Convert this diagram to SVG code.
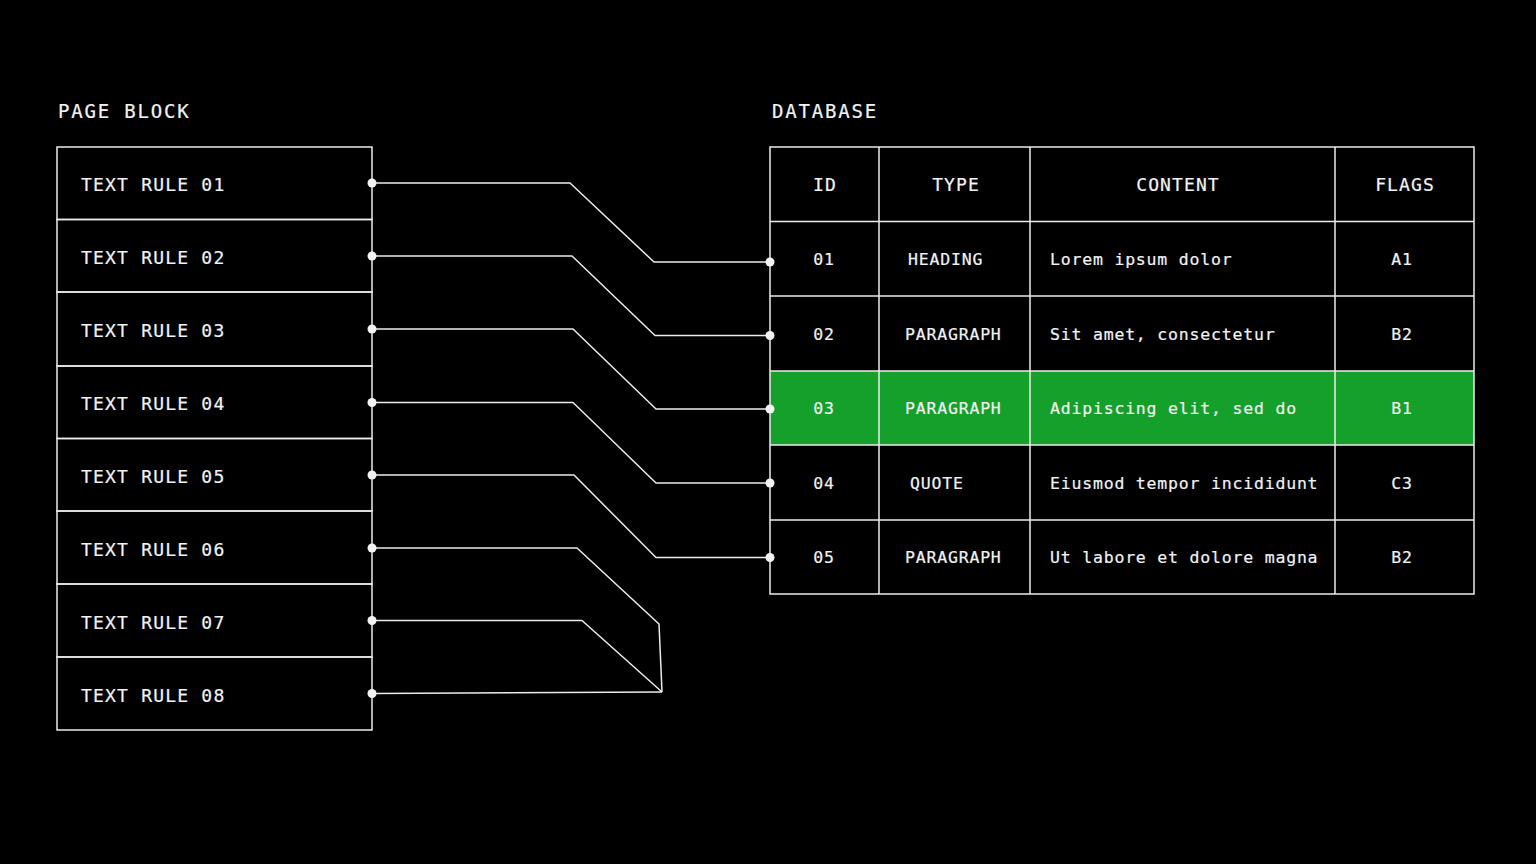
<svg xmlns="http://www.w3.org/2000/svg" width="1536" height="864" viewBox="0 0 1536 864">
<defs>
<style>
text{font-family:"DejaVu Sans Mono","Liberation Mono",monospace;fill:#f2f2f2;stroke:#f2f2f2;stroke-width:0.2}
.title{font-size:19px;letter-spacing:1.8px}
.rule{font-size:18px;letter-spacing:1.2px}
.th{font-size:18px;letter-spacing:1.1px;text-anchor:middle}
.td{font-size:16.5px;letter-spacing:0.8px}
.c{text-anchor:middle}
.box{fill:none;stroke:#ececec;stroke-width:1.5}
.ln{fill:none;stroke:#ececec;stroke-width:1.5;stroke-linejoin:round}
.dot{fill:#f2f2f2}
</style>
</defs>
<rect width="1536" height="864" fill="#000"/>
<text class="title" x="58" y="118">PAGE BLOCK</text>
<text class="title" x="772" y="118">DATABASE</text>

<g id="page-block">
<g id="rule01"><rect class="box" x="57" y="147" width="315" height="72.5"/><text class="rule" x="81" y="191">TEXT RULE 01</text></g>
<g id="rule02"><rect class="box" x="57" y="219.5" width="315" height="72.5"/><text class="rule" x="81" y="264">TEXT RULE 02</text></g>
<g id="rule03"><rect class="box" x="57" y="292" width="315" height="74"/><text class="rule" x="81" y="337">TEXT RULE 03</text></g>
<g id="rule04"><rect class="box" x="57" y="366" width="315" height="72.5"/><text class="rule" x="81" y="410">TEXT RULE 04</text></g>
<g id="rule05"><rect class="box" x="57" y="438.5" width="315" height="72.5"/><text class="rule" x="81" y="483">TEXT RULE 05</text></g>
<g id="rule06"><rect class="box" x="57" y="511" width="315" height="73"/><text class="rule" x="81" y="556">TEXT RULE 06</text></g>
<g id="rule07"><rect class="box" x="57" y="584" width="315" height="73"/><text class="rule" x="81" y="629">TEXT RULE 07</text></g>
<g id="rule08"><rect class="box" x="57" y="657" width="315" height="73"/><text class="rule" x="81" y="702">TEXT RULE 08</text></g>
</g>

<g id="database">
<g id="row-03-highlight"><rect x="770" y="371" width="704" height="74" fill="#14a02a"/></g>
<g id="table-grid">
<rect class="box" x="770" y="147" width="704" height="447"/>
<path class="ln" d="M770 221.5H1474M770 296H1474M770 371H1474M770 445H1474M770 520H1474M879 147V594M1030 147V594M1335 147V594"/>
</g>
<g id="header">
<text class="th" x="825" y="191">ID</text>
<text class="th" x="956" y="191">TYPE</text>
<text class="th" x="1178" y="191">CONTENT</text>
<text class="th" x="1405" y="191">FLAGS</text>
</g>
<g id="row01">
<text class="td c" x="824" y="265">01</text>
<text class="td" x="908" y="265">HEADING</text>
<text class="td" x="1050" y="265">Lorem ipsum dolor</text>
<text class="td c" x="1402" y="265">A1</text>
</g>
<g id="row02">
<text class="td c" x="824" y="340">02</text>
<text class="td" x="905" y="340">PARAGRAPH</text>
<text class="td" x="1050" y="340">Sit amet, consectetur</text>
<text class="td c" x="1402" y="340">B2</text>
</g>
<g id="row03">
<text class="td c" x="824" y="414">03</text>
<text class="td" x="905" y="414">PARAGRAPH</text>
<text class="td" x="1050" y="414">Adipiscing elit, sed do</text>
<text class="td c" x="1402" y="414">B1</text>
</g>
<g id="row04">
<text class="td c" x="824" y="489">04</text>
<text class="td" x="910" y="489">QUOTE</text>
<text class="td" x="1050" y="489">Eiusmod tempor incididunt</text>
<text class="td c" x="1402" y="489">C3</text>
</g>
<g id="row05">
<text class="td c" x="824" y="563">05</text>
<text class="td" x="905" y="563">PARAGRAPH</text>
<text class="td" x="1050" y="563">Ut labore et dolore magna</text>
<text class="td c" x="1402" y="563">B2</text>
</g>
</g>

<g id="connectors">
<path class="ln" d="M372 183H570L654 262H770"/>
<path class="ln" d="M372 256H572L655 335.5H770"/>
<path class="ln" d="M372 329H573L656 409H770"/>
<path class="ln" d="M372 402.5H573L656 483H770"/>
<path class="ln" d="M372 475H574L656 557.5H770"/>
<path class="ln" d="M372 548H577L659 624L662 692"/>
<path class="ln" d="M372 620.5H582L662 692"/>
<path class="ln" d="M372 693.5L662 692"/>
<g class="dot">
<circle cx="372" cy="183" r="4.5"/><circle cx="372" cy="256" r="4.5"/><circle cx="372" cy="329" r="4.5"/><circle cx="372" cy="402.5" r="4.5"/>
<circle cx="372" cy="475" r="4.5"/><circle cx="372" cy="548" r="4.5"/><circle cx="372" cy="620.5" r="4.5"/><circle cx="372" cy="693.5" r="4.5"/>
<circle cx="770" cy="262" r="4.5"/><circle cx="770" cy="335.5" r="4.5"/><circle cx="770" cy="409" r="4.5"/><circle cx="770" cy="483" r="4.5"/><circle cx="770" cy="557.5" r="4.5"/>
</g>
</g>
</svg>
